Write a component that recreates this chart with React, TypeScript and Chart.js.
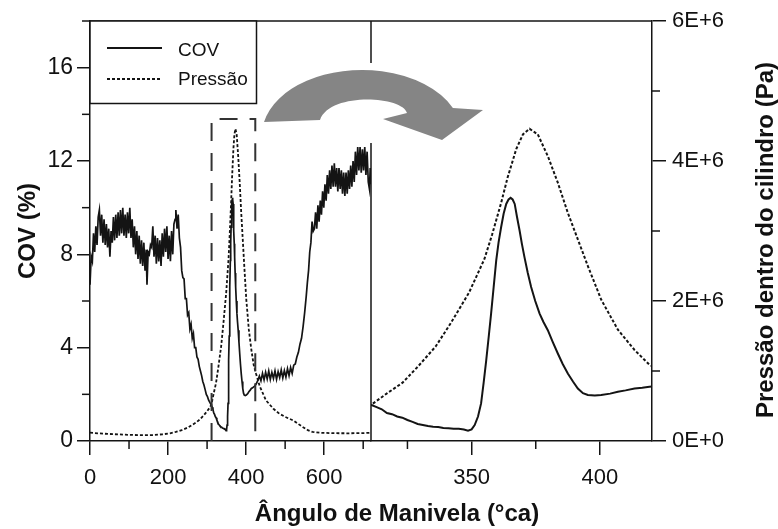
import React, { useEffect, useRef } from 'react';
import { Chart, registerables } from 'chart.js';

Chart.register(...registerables);

// ---------- data (crank angle in °ca) ----------
const covSeries: [number, number][] = [
  [0, 6.7], [3, 7.9], [6, 7.7], [9, 8.9], [12, 8.1], [15, 9.2], [18, 8.4], [21, 9.6], [24, 9.9], [27, 8.8],
  [30, 9.7], [33, 8.5], [36, 9.5], [39, 8.4], [42, 9.3], [45, 8.3], [48, 9.1], [51, 7.9], [54, 9.0], [57, 8.5],
  [60, 9.6], [63, 8.6], [66, 9.7], [69, 8.7], [72, 9.8], [75, 8.8], [78, 9.9], [81, 8.9], [84, 10.0], [87, 8.8],
  [90, 9.7], [93, 8.7], [96, 9.8], [99, 8.9], [102, 10.0], [105, 8.7], [108, 9.5], [111, 8.3], [114, 9.2], [117, 8.0],
  [120, 9.0], [123, 7.8], [126, 8.8], [129, 7.6], [132, 8.6], [135, 7.5], [138, 8.5], [141, 7.3], [144, 8.2], [146, 6.7],
  [149, 8.1], [152, 8.0], [155, 8.4], [158, 8.3], [161, 9.2], [164, 7.9], [167, 8.8], [170, 7.6], [173, 8.7], [176, 7.7],
  [179, 8.6], [182, 7.5], [185, 8.9], [188, 7.9], [191, 9.1], [194, 8.1], [197, 9.2], [200, 7.8], [203, 8.8], [206, 7.7],
  [209, 9.0], [212, 8.0], [215, 9.3], [218, 9.5], [220, 9.9], [223, 9.1], [226, 9.7], [229, 8.7], [232, 8.3], [235, 7.3],
  [238, 7.0], [241, 6.95], [244, 6.1], [247, 6.1], [250, 5.4], [253, 5.5], [256, 4.8], [259, 5.0], [262, 4.4], [265, 4.6],
  [268, 4.0], [271, 4.0], [274, 3.6], [277, 3.5], [280, 3.2], [283, 3.0], [286, 2.8], [289, 2.55], [292, 2.4], [295, 2.2],
  [298, 2.0], [301, 1.9], [304, 1.75], [308, 1.62], [311, 1.54], [313, 1.45], [315, 1.36], [317, 1.2], [319, 1.15], [321, 1.05],
  [323, 1.0], [325, 0.9], [327, 0.82], [329, 0.73], [331, 0.69], [333, 0.64], [335, 0.61], [337, 0.6], [339, 0.56], [341, 0.55],
  [343, 0.53], [345, 0.52], [347, 0.49], [348.6, 0.44], [350, 0.5], [351.2, 0.68], [352.5, 1.05], [353.7, 1.61], [354.7, 2.5], [355.7, 3.46],
  [356.7, 4.5], [357.6, 5.46], [358.6, 6.6], [359.6, 7.74], [360.5, 8.5], [361.5, 9.16], [362.5, 9.75], [363.5, 10.16], [364.4, 10.35], [365.2, 10.42],
  [366, 10.35], [366.8, 10.16], [367.7, 9.6], [368.7, 9.02], [369.6, 8.45], [370.6, 7.88], [371.9, 7.2], [373.2, 6.6], [374.8, 6.0], [376.5, 5.46],
  [378, 5.1], [379.7, 4.75], [381.6, 4.25], [383.6, 3.75], [385.5, 3.3], [387.5, 2.89], [389.5, 2.55], [391.4, 2.25], [393.4, 2.05], [395.3, 1.97],
  [398, 1.95], [400.5, 1.97], [404, 2.03], [407, 2.11], [410, 2.17], [413.5, 2.25], [416.5, 2.28], [419.3, 2.32], [422, 2.35], [426, 2.45],
  [430, 2.6], [434, 2.78], [438, 2.58], [442, 2.9], [446, 2.62], [450, 2.95], [454, 2.66], [458, 3.0], [462, 2.64], [466, 2.94],
  [470, 2.68], [474, 3.0], [478, 2.64], [482, 2.97], [486, 2.72], [490, 3.05], [494, 2.7], [498, 3.02], [502, 2.74], [506, 3.1],
  [510, 2.8], [514, 3.15], [518, 2.9], [522, 3.25], [526, 3.3], [530, 3.6], [534, 3.8], [538, 4.15], [542, 4.4], [546, 4.9],
  [550, 5.5], [554, 6.2], [557, 6.8], [560, 7.3], [563, 8.1], [566, 8.5], [569, 9.4], [572, 9.0], [575, 9.1], [578, 9.8],
  [581, 9.1], [584, 10.1], [587, 9.4], [590, 10.3], [593, 9.7], [596, 10.7], [599, 10.0], [602, 11.0], [605, 10.3], [608, 11.4],
  [611, 10.6], [614, 11.6], [617, 10.8], [620, 11.8], [623, 10.9], [626, 11.9], [629, 10.9], [632, 11.7], [635, 10.7], [638, 11.7],
  [641, 10.8], [644, 11.6], [647, 10.6], [650, 11.5], [653, 10.5], [656, 11.5], [659, 10.6], [662, 11.6], [665, 10.8], [668, 11.8],
  [671, 10.9], [674, 12.0], [677, 11.1], [680, 12.4], [683, 11.4], [686, 12.6], [689, 11.6], [692, 12.6], [695, 11.5], [698, 12.5],
  [701, 11.6], [704, 12.6], [707, 11.4], [710, 12.4], [713, 11.1], [716, 10.8], [718, 11.7], [720, 11.0],
];

const pressureSeries: [number, number][] = [
  [0, 1.2e5], [20, 1.1e5], [50, 1.0e5], [90, 0.9e5], [130, 0.83e5], [160, 0.85e5], [185, 0.95e5], [205, 1.1e5],
  [220, 1.3e5], [235, 1.55e5], [250, 1.9e5], [262, 2.3e5], [272, 2.65e5], [282, 3.1e5], [292, 3.7e5], [300, 4.25e5],
  [306, 4.7e5], [311, 5.2e5], [317, 6.8e5], [323, 8.3e5], [329, 10.6e5], [336, 13.5e5], [342, 16.9e5], [349, 21.2e5],
  [355, 26.0e5], [358, 29.5e5], [361.5, 34.0e5], [364, 37.6e5], [367.4, 41.7e5], [370, 43.8e5], [372.6, 44.6e5], [375.8, 43.8e5],
  [379.7, 40.7e5], [383.6, 36.9e5], [387.5, 32.6e5], [391.4, 28.8e5], [395.3, 25.0e5], [400.5, 20.2e5], [407, 15.9e5], [413.5, 13.0e5],
  [419.3, 10.9e5], [425.5, 9.6e5], [435, 7.8e5], [451, 5.8e5], [470, 4.6e5], [485, 3.9e5], [500, 3.45e5], [512, 3.15e5],
  [522, 2.9e5], [532, 2.5e5], [545, 2.0e5], [558, 1.55e5], [570, 1.3e5], [590, 1.18e5], [620, 1.12e5], [660, 1.1e5],
  [700, 1.13e5], [720, 1.18e5],
];

// ---------- axes ----------
const fullRange = [0, 720];
const zoomRange = [310.8, 420.3];
const covRange = [0, 18];
const pressureRange = [0, 6e6];
const fullTicks = [0, 200, 400, 600];
const fullMinorTicks = [100, 300, 500, 700];
const zoomTicks = [350, 400];
const zoomMinorTicks = [325, 375];
const covTicks = [0, 4, 8, 12, 16];
const covMinorTicks = [2, 6, 10, 14, 18];
const pressureTicks = [0, 2e6, 4e6, 6e6];
const pressureTickLabels = ['0E+0', '2E+6', '4E+6', '6E+6'];
const pressureMinorTicks = [1e6, 3e6, 5e6];
const highlightBox = [311.5, 423.5, 13.8]; // angle from, angle to, COV top
const legendLabels = ['COV', 'Pressão'];
const xTitle = 'Ângulo de Manivela (°ca)';
const yLeftTitle = 'COV (%)';
const yRightTitle = 'Pressão dentro do cilindro (Pa)';

const INK = '#141414';
const FONT = '"Liberation Sans", Arial, Helvetica, sans-serif';

const toPts = (s: [number, number][]) => s.map(([x, y]) => ({ x, y }));
const inZoom = (s: [number, number][]) =>
  s.filter(([x]) => x >= zoomRange[0] - 6 && x <= zoomRange[1] + 6);

const decor = {
  id: 'decor',
  afterDraw(chart: any) {
    const { ctx, chartArea: ca, scales } = chart;
    const x1 = scales.x1, x2 = scales.x2, yC = scales.yCov, yP = scales.yP;
    ctx.save();
    ctx.strokeStyle = INK;
    ctx.lineWidth = 1.5;
    const line = (ax: number, ay: number, bx: number, by: number) => {
      ctx.beginPath(); ctx.moveTo(ax, ay); ctx.lineTo(bx, by); ctx.stroke();
    };
    // minor ticks
    covMinorTicks.forEach(v => { const y = yC.getPixelForValue(v); line(ca.left - 8, y, ca.left, y); });
    pressureMinorTicks.forEach(v => { const y = yP.getPixelForValue(v); line(ca.right, y, ca.right + 8, y); });
    fullMinorTicks.forEach(v => { const x = x1.getPixelForValue(v); line(x, ca.bottom, x, ca.bottom + 8); });
    zoomMinorTicks.forEach(v => { const x = x2.getPixelForValue(v); line(x, ca.bottom, x, ca.bottom + 8); });
    // top frame & panel divider
    line(ca.left, ca.top, ca.right, ca.top);
    line(x2.left, ca.top, x2.left, ca.bottom);

    // dashed highlight box
    ctx.save();
    ctx.setLineDash([18, 12]);
    ctx.lineWidth = 2;
    ctx.strokeStyle = '#333';
    const bx0 = x1.getPixelForValue(highlightBox[0]);
    const bx1 = x1.getPixelForValue(highlightBox[1]);
    const by = yC.getPixelForValue(highlightBox[2]);
    ctx.beginPath(); ctx.moveTo(bx0, ca.bottom); ctx.lineTo(bx0, by); ctx.lineTo(bx1, by); ctx.lineTo(bx1, ca.bottom); ctx.stroke();
    ctx.restore();

    // curved arrow (with white background box)
    ctx.fillStyle = '#fff';
    ctx.fillRect(262, 63, 224, 80);
    ctx.fillStyle = '#858585';
    ctx.beginPath();
    ctx.ellipse(362, 135, 100, 65, 0, Math.PI + 0.2, 2 * Math.PI - 0.43, false);
    ctx.lineTo(483, 110);
    ctx.lineTo(442, 140);
    ctx.lineTo(383, 119);
    ctx.lineTo(407, 113);
    ctx.bezierCurveTo(402, 96, 330, 92, 320, 120);
    ctx.closePath();
    ctx.fill();

    // legend
    ctx.fillStyle = '#fff';
    ctx.fillRect(ca.left, ca.top, 166.5, 82.5);
    ctx.strokeStyle = INK;
    ctx.lineWidth = 1.5;
    ctx.strokeRect(ca.left, ca.top, 166.5, 82.5);
    ctx.lineWidth = 2;
    line(ca.left + 17, ca.top + 27, ca.left + 72, ca.top + 27);
    ctx.save();
    ctx.setLineDash([3, 2]);
    line(ca.left + 17, ca.top + 58, ca.left + 72, ca.top + 58);
    ctx.restore();
    ctx.fillStyle = '#111';
    ctx.font = `19px ${FONT}`;
    ctx.textAlign = 'left';
    ctx.textBaseline = 'middle';
    ctx.fillText(legendLabels[0], ca.left + 88, ca.top + 30);
    ctx.fillText(legendLabels[1], ca.left + 88, ca.top + 59);

    // titles
    ctx.font = `bold 24px ${FONT}`;
    ctx.textAlign = 'center';
    ctx.textBaseline = 'alphabetic';
    ctx.fillText(xTitle, 397, 521);
    ctx.save();
    ctx.translate(35, (ca.top + ca.bottom) / 2);
    ctx.rotate(-Math.PI / 2);
    ctx.fillText(yLeftTitle, 0, 0);
    ctx.restore();
    ctx.save();
    ctx.translate(773, 240);
    ctx.rotate(-Math.PI / 2);
    ctx.fillText(yRightTitle, 0, 0);
    ctx.restore();
    ctx.restore();
  },
};

const axisCommon = (tickLength: number) => ({
  type: 'linear' as const,
  grid: { drawOnChartArea: false, drawTicks: true, tickLength, tickWidth: 1.5, tickColor: INK, color: INK, lineWidth: 1.5 },
  border: { display: true, color: INK, width: 1.5 },
  title: { display: false },
});

export default function App() {
  const ref = useRef<HTMLCanvasElement | null>(null);
  useEffect(() => {
    if (!ref.current) return;
    const chart = new Chart(ref.current, {
      type: 'line',
      data: {
        datasets: [
          { label: 'COV', data: toPts(covSeries), xAxisID: 'x1', yAxisID: 'yCov', borderColor: INK, borderWidth: 1.7, pointRadius: 0, tension: 0, fill: false },
          { label: 'Pressão', data: toPts(pressureSeries), xAxisID: 'x1', yAxisID: 'yP', borderColor: INK, borderWidth: 1.8, borderDash: [3, 2], pointRadius: 0, tension: 0, fill: false },
          { label: 'COV (zoom)', data: toPts(inZoom(covSeries)), xAxisID: 'x2', yAxisID: 'yCov', borderColor: INK, borderWidth: 2, pointRadius: 0, tension: 0, fill: false },
          { label: 'Pressão (zoom)', data: toPts(inZoom(pressureSeries)), xAxisID: 'x2', yAxisID: 'yP', borderColor: INK, borderWidth: 2, borderDash: [3, 2], pointRadius: 0, tension: 0, fill: false },
        ],
      } as any,
      options: {
        responsive: false,
        animation: false,
        devicePixelRatio: 1,
        events: [],
        layout: { padding: { top: 21, left: 0, right: 0, bottom: 0 } },
        plugins: { legend: { display: false }, tooltip: { enabled: false } },
        scales: {
          x1: {
            ...axisCommon(14), position: 'bottom', stack: 'x', stackWeight: 1, min: fullRange[0], max: fullRange[1],
            afterBuildTicks: (s: any) => { s.ticks = fullTicks.map(v => ({ value: v })); },
            afterFit: (s: any) => { s.height = 88; },
            ticks: { font: { size: 22, family: FONT }, color: '#111', padding: 10, maxRotation: 0, autoSkip: false },
          },
          x2: {
            ...axisCommon(14), position: 'bottom', stack: 'x', stackWeight: 1, min: zoomRange[0], max: zoomRange[1],
            afterBuildTicks: (s: any) => { s.ticks = zoomTicks.map(v => ({ value: v })); },
            afterFit: (s: any) => { s.height = 88; },
            ticks: { font: { size: 22, family: FONT }, color: '#111', padding: 10, maxRotation: 0, autoSkip: false },
          },
          yCov: {
            ...axisCommon(13), position: 'left', min: covRange[0], max: covRange[1],
            afterBuildTicks: (s: any) => { s.ticks = covTicks.map(v => ({ value: v })); },
            afterFit: (s: any) => { s.width = 90; },
            ticks: { font: { size: 23, family: FONT }, color: '#111', padding: 4, autoSkip: false },
          },
          yP: {
            ...axisCommon(14), position: 'right', min: pressureRange[0], max: pressureRange[1],
            afterBuildTicks: (s: any) => { s.ticks = pressureTicks.map(v => ({ value: v })); },
            afterFit: (s: any) => { s.width = 126; },
            ticks: {
              font: { size: 22, family: FONT }, color: '#111', padding: 6, autoSkip: false,
              callback: (v: any) => pressureTickLabels[pressureTicks.indexOf(Number(v))] ?? '',
            },
          },
        },
      } as any,
      plugins: [decor],
    });
    return () => chart.destroy();
  }, []);

  return (
    <div style={{ position: 'absolute', left: 0, top: 0, width: 778, height: 529, background: '#fff' }}>
      <canvas ref={ref} width={778} height={529} style={{ display: 'block' }} />
    </div>
  );
}
